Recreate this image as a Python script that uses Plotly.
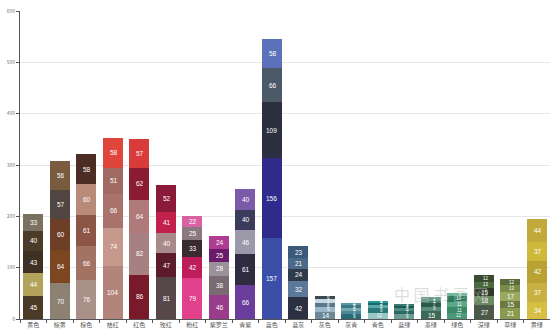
import plotly.graph_objects as go

# Colour families (x-axis categories)
categories = ["黄色", "棕黄", "棕色", "桔红", "红色", "玫红", "粉红", "紫罗兰", "青紫", "蓝色",
              "蓝灰", "灰色", "灰青", "青色", "蓝绿", "墨绿", "绿色", "深绿", "草绿", "黄绿"]

# Stacked layers, bottom to top
layer1 = [45, 70, 76, 104, 86, 81, 79, 46, 66, 157, 42, 14, 9, 12, 9, 15, 12, 27, 21, 34]
layer2 = [44, 64, 66, 74, 82, 47, 42, 38, 61, 156, 32, 9, 7, 9, 7, 9, 11, 18, 15, 37]
layer3 = [43, 60, 61, 66, 64, 40, 33, 28, 46, 109, 24, 8, 6, 6, 6, 7, 11, 15, 17, 42]
layer4 = [40, 57, 60, 51, 62, 41, 25, 25, 40, 66, 21, 7, 5, 5, 4, 5, 10, 13, 13, 37]
layer5 = [33, 56, 58, 58, 57, 52, 22, 24, 40, 58, 23, 6, 4, 3, 3, 7, 6, 12, 12, 44]

colors1 = ["#4b3a26", "#8c8173", "#a99089", "#b3857a", "#781a2a", "#56474b", "#e0408c", "#9a3c8c",
           "#6a3c9c", "#3b4fa8", "#2b3141", "#6a8898", "#2b6a78", "#9ac6c6", "#6a9a90", "#3b6a58",
           "#4a9a7a", "#4b5a48", "#8a9a50", "#d6bf42"]
colors2 = ["#b3a25a", "#7b4620", "#a27262", "#c7988c", "#a78182", "#5b1b2a", "#c01b5b", "#7a6a72",
           "#2f2b40", "#2e2b8c", "#5b7898", "#9ab8c8", "#4a8a98", "#2a7878", "#2a6a60", "#5a8a78",
           "#3a8a6a", "#6a8a60", "#6a7a40", "#c8b042"]
colors3 = ["#3e3123", "#6c3f26", "#8b5646", "#a9726a", "#b07a7a", "#a98a8b", "#3a2b31", "#9b919a",
           "#9b99a9", "#2b2f3f", "#2f3b49", "#5a7888", "#7aa8b0", "#5aa8a8", "#4a8a80", "#2a5a48",
           "#5aa888", "#2b3b29", "#9aa860", "#b9a132"]
colors4 = ["#4b3c29", "#504641", "#b88b79", "#9f6a62", "#8b1b31", "#c2214b", "#8b7981", "#6b1b6b",
           "#3b3b5b", "#4b5969", "#4b6989", "#c8d8e0", "#3a7888", "#1a6868", "#1a5a50", "#4a7a68",
           "#2a7a5a", "#4a6a40", "#7a8a48", "#d0b83a"]
colors5 = ["#7b7161", "#7b5b3f", "#4b2d23", "#df453b", "#d93b3b", "#8b1939", "#d862a2", "#b03c92",
           "#7b5ba9", "#5b71b9", "#3b5979", "#3a4850", "#5a9aa8", "#2a9898", "#3a7a70", "#6a9a88",
           "#6ab898", "#3b4b31", "#5b6b39", "#c1a93a"]

layers = [layer1, layer2, layer3, layer4, layer5]
palettes = [colors1, colors2, colors3, colors4, colors5]

fig = go.Figure()
for vals, cols in zip(layers, palettes):
    fig.add_trace(go.Bar(
        x=categories,
        y=vals,
        marker=dict(color=cols, line=dict(width=0)),
        hoverinfo="x+y",
        showlegend=False,
    ))

# value labels in each stacked segment, set towards the bar's right edge
annotations = []
base = [0] * len(categories)
for vals in layers:
    for i, (cat, v) in enumerate(zip(categories, vals)):
        annotations.append(dict(
            x=cat, y=base[i] + v / 2, xref="x", yref="y",
            xanchor="right", xshift=7,
            text=str(v), showarrow=False,
            font=dict(color="white", size=6.5 if v >= 14 else 4.5,
                      family="Liberation Sans"),
        ))
        base[i] += v

# faint site mark in the lower right
annotations.append(dict(
    text="中 国 书 画 网",
    x=0.887, y=0.037, xref="paper", yref="paper",
    showarrow=False,
    font=dict(size=16, color="rgba(190,190,190,0.5)", family="Noto Sans CJK SC"),
))

fig.update_layout(
    barmode="stack",
    bargap=0.25,
    width=550,
    height=331,
    margin=dict(l=20, r=0, t=11, b=12, autoexpand=False),
    paper_bgcolor="white",
    plot_bgcolor="white",
    font=dict(family="Noto Sans CJK SC", size=7, color="#555555"),
    xaxis=dict(
        type="category",
        automargin=False,
        tickangle=0,
        showline=True,
        linecolor="#555555",
        linewidth=1,
        ticks="outside",
        tickson="boundaries",
        ticklen=3,
        tickcolor="#555555",
        tickfont=dict(size=6, color="#555555"),
        showgrid=False,
    ),
    yaxis=dict(
        range=[0, 600],
        automargin=False,
        tickvals=[0, 100, 200, 300, 400, 500, 600],
        showline=True,
        linecolor="#555555",
        linewidth=1,
        ticks="outside",
        ticklen=3,
        tickcolor="#555555",
        tickfont=dict(size=5, color="#777777"),
        showgrid=True,
        gridcolor="#e6e6e6",
        gridwidth=1,
        zeroline=False,
    ),
    annotations=annotations,
)

fig.write_html("out.html")
